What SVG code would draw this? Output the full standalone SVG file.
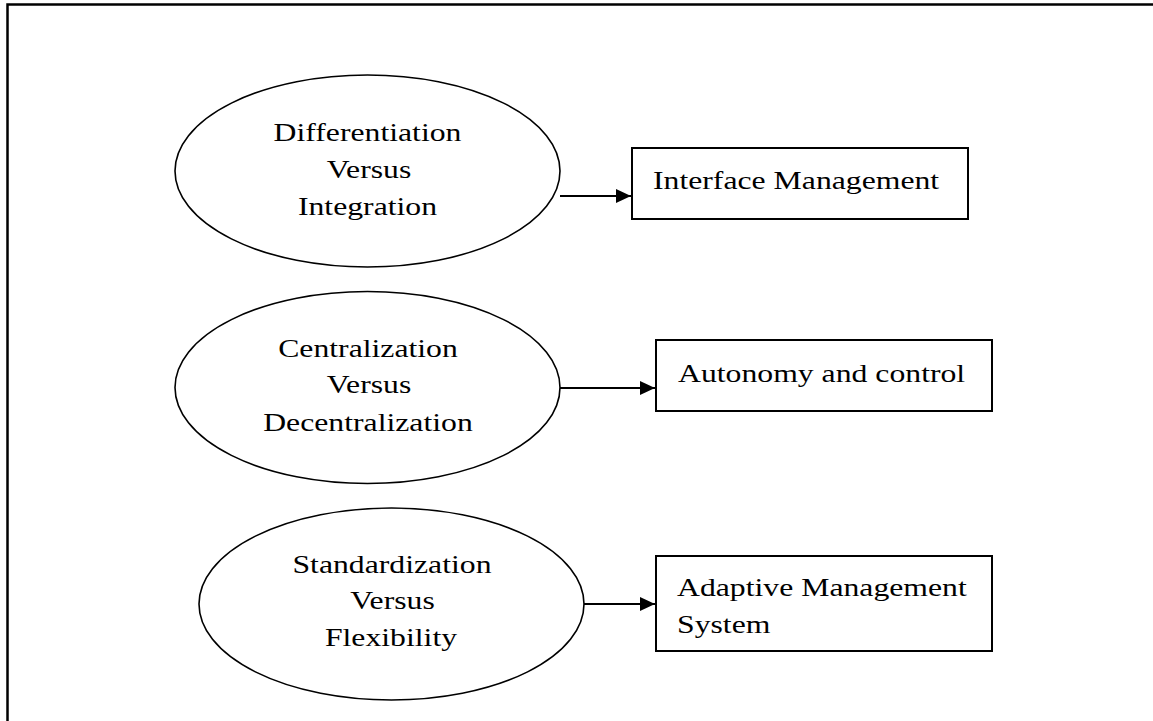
<svg xmlns="http://www.w3.org/2000/svg" width="1153" height="721" viewBox="0 0 1153 721">
  <style>
    .frame { fill: none; stroke: #000; stroke-width: 2.5; }
    .ell { fill: #fff; stroke: #000; stroke-width: 1.6; }
    .box { fill: #fff; stroke: #000; stroke-width: 2; }
    .conn { fill: none; stroke: #000; stroke-width: 2; }
    .t { font-family: "Liberation Serif", "Times New Roman", serif; font-size: 26px; fill: #000; }
    .c { text-anchor: middle; }
  </style>
  <defs>
    <marker id="arrow" viewBox="0 0 15 14" refX="15" refY="7" markerWidth="15" markerHeight="14" markerUnits="userSpaceOnUse" orient="auto">
      <path d="M0,0 L15,7 L0,14 Z" fill="#000"/>
    </marker>
  </defs>
  <rect width="1153" height="721" fill="#fff"/>
  <path class="frame" d="M7.5,730 L7.5,4.5 L1160,4.5"/>

  <g id="connectors">
    <path class="conn" d="M560,196 L631,196" marker-end="url(#arrow)"/>
    <path class="conn" d="M560,388 L655,388" marker-end="url(#arrow)"/>
    <path class="conn" d="M584,604 L655,604" marker-end="url(#arrow)"/>
  </g>

  <g id="node-differentiation">
    <ellipse class="ell" cx="367.5" cy="171" rx="192.5" ry="96"/>
    <text class="t c" transform="translate(367.5,141) scale(1.22,1)">Differentiation</text>
    <text class="t c" transform="translate(369,178) scale(1.22,1)">Versus</text>
    <text class="t c" transform="translate(367.5,215) scale(1.22,1)">Integration</text>
  </g>
  <g id="node-interface">
    <rect class="box" x="632" y="148" width="336" height="71"/>
    <text class="t" transform="translate(653,189) scale(1.22,1)">Interface Management</text>
  </g>

  <g id="node-centralization">
    <ellipse class="ell" cx="367.5" cy="387.5" rx="192.5" ry="96"/>
    <text class="t c" transform="translate(368,357) scale(1.22,1)">Centralization</text>
    <text class="t c" transform="translate(369,393) scale(1.22,1)">Versus</text>
    <text class="t c" transform="translate(368,431) scale(1.22,1)">Decentralization</text>
  </g>
  <g id="node-autonomy">
    <rect class="box" x="656" y="340" width="336" height="71"/>
    <text class="t" transform="translate(678,382) scale(1.22,1)">Autonomy and control</text>
  </g>

  <g id="node-standardization">
    <ellipse class="ell" cx="391.5" cy="604" rx="192.5" ry="96"/>
    <text class="t c" transform="translate(392,573) scale(1.22,1)">Standardization</text>
    <text class="t c" transform="translate(392.5,609) scale(1.22,1)">Versus</text>
    <text class="t c" transform="translate(391,646) scale(1.22,1)">Flexibility</text>
  </g>
  <g id="node-adaptive">
    <rect class="box" x="656" y="556" width="336" height="95"/>
    <text class="t" transform="translate(677,596) scale(1.22,1)">Adaptive Management</text>
    <text class="t" transform="translate(677,633) scale(1.22,1)">System</text>
  </g>
</svg>
